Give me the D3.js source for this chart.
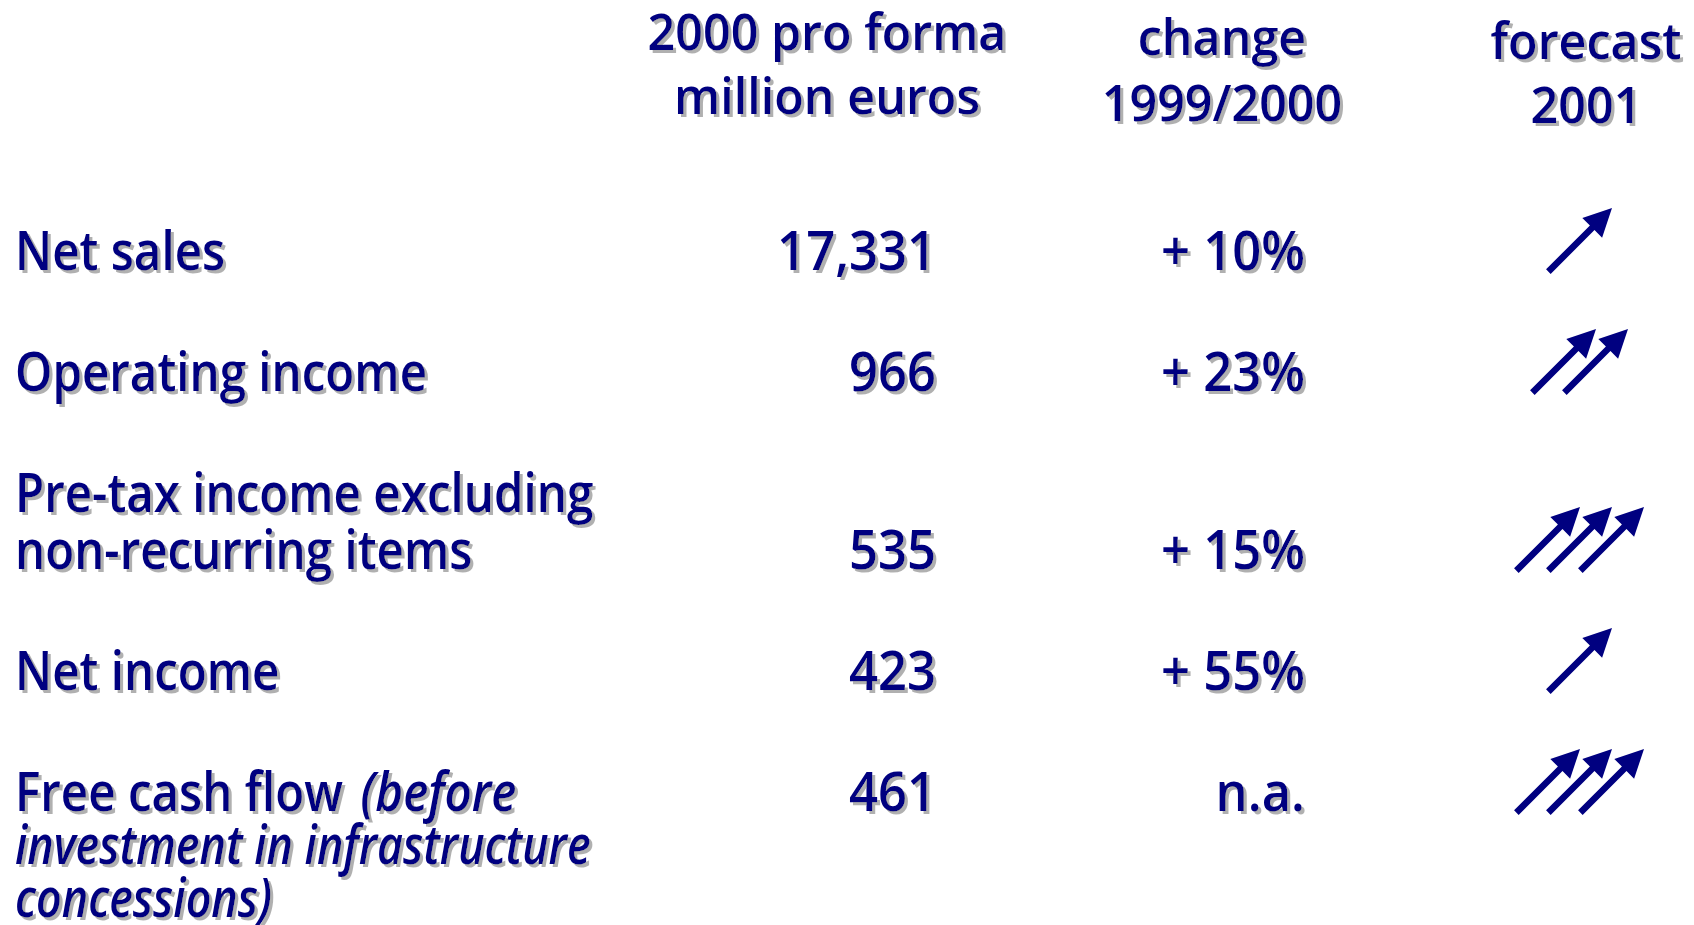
<html>
    <head>
        <meta charset="utf-8">
        <script src="https://d3js.org/d3.v7.min.js"></script>
        <title>Key figures 2000</title>
    </head>
    <style>
        body { margin: 0; background: #fff; }
        text { font-family: "Open Sans", sans-serif; font-weight: 600; fill: #000080; }
    </style>
    <body>
        <svg id="svg1"></svg>
        <script>
            // data
            const rowLabels = [
                ["Net sales"],
                ["Operating income"],
                ["Pre-tax income excluding", "non-recurring items"],
                ["Net income"],
                ["Free cash flow"]
            ];
            // italic note after the last label
            const rowNotes = [null, null, null, null, ["(before", "investment in infrastructure", "concessions)"]];
            // line of the label the figures sit on
            const valueLine = [0, 0, 1, 0, 0];
            const salesValues = [17331, 966, 535, 423, 461];
            const changeValues = [10, 23, 15, 55, null];
            const forecastArrows = [1, 2, 3, 1, 3];
            const headerLines = [
                ["2000 pro forma", "million euros"],
                ["change", "1999/2000"],
                ["forecast", "2001"]
            ];

            const width = 1694;
            const height = 925;
            const navy = "#000080";

            let svg1 = d3.select("svg#svg1")
                         .attr("width", width)
                         .attr("height", height);

            // drop shadow used by all text
            let defs = svg1.append("defs");
            let shadow = defs.append("filter")
                             .attr("id", "shadow")
                             .attr("x", "-5%").attr("y", "-20%")
                             .attr("width", "115%").attr("height", "150%");
            shadow.append("feOffset").attr("in", "SourceAlpha").attr("dx", 3).attr("dy", 3).attr("result", "off");
            shadow.append("feFlood").attr("flood-color", "#b0b0b0");
            shadow.append("feComposite").attr("in2", "off").attr("operator", "in").attr("result", "sh");
            let merge = shadow.append("feMerge");
            merge.append("feMergeNode").attr("in", "sh");
            merge.append("feMergeNode").attr("in", "SourceGraphic");

            const bodySize = 54, bodySx = 0.88, italicSx = 0.83, numSx = 0.94;
            const headSize = 51, headSx = 0.95;
            const lineH = 57;

            // row positions
            const scaleRow = d3.scaleLinear().domain([0, 1]).range([270, 391]);
            let extra = 0;
            const rowTop = rowLabels.map((d, i) => {
                const y = scaleRow(i) + extra;
                extra += valueLine[i] * lineH;
                return y;
            });
            const rowValueY = rowTop.map((y, i) => y + valueLine[i] * lineH);

            // columns
            const scaleCol = d3.scaleOrdinal()
                               .domain(["label", "sales", "change", "forecast"])
                               .range([15, 936, 1305, 1612]);
            const headerX = [827, 1222, 1586];
            const headerY = [[50, 114], [55, 121], [59, 123]];

            let textLayer = svg1.append("g").attr("filter", "url(#shadow)");

            // header
            headerLines.forEach((lines, c) => {
                lines.forEach((t, k) => {
                    textLayer.append("text")
                             .attr("transform", `translate(${headerX[c]}, ${headerY[c][k]}) scale(${headSx}, 1)`)
                             .attr("text-anchor", "middle")
                             .style("font-size", headSize + "px")
                             .text(t);
                });
            });

            // row labels
            rowLabels.forEach((lines, i) => {
                const note = rowNotes[i];
                lines.forEach((t, k) => {
                    let txt = textLayer.append("text")
                                       .attr("transform", `translate(${scaleCol("label")}, ${rowTop[i] + k * lineH}) scale(${bodySx}, 1)`)
                                       .style("font-size", bodySize + "px");
                    txt.append("tspan").text(t);
                    if (note && k === lines.length - 1) {
                        txt.append("tspan")
                           .attr("dx", 20)
                           .style("font-style", "italic")
                           .text(note[0]);
                    }
                });
                if (note) {
                    note.slice(1).forEach((t, k) => {
                        textLayer.append("text")
                                 .attr("transform", `translate(${scaleCol("label")}, ${rowTop[i] + (lines.length + k) * 53}) scale(${italicSx}, 1)`)
                                 .style("font-size", bodySize + "px")
                                 .style("font-style", "italic")
                                 .text(t);
                    });
                }
            });

            // figures
            const fmtSales = d3.format(",");
            textLayer.selectAll("text.sales")
                     .data(salesValues)
                     .join("text")
                     .attr("class", "sales")
                     .attr("transform", (d, i) => `translate(${scaleCol("sales")}, ${rowValueY[i]}) scale(${numSx}, 1)`)
                     .attr("text-anchor", "end")
                     .style("font-size", bodySize + "px")
                     .text(d => fmtSales(d));

            textLayer.selectAll("text.change")
                     .data(changeValues)
                     .join("text")
                     .attr("class", "change")
                     .attr("transform", (d, i) => `translate(${scaleCol("change")}, ${rowValueY[i]}) scale(${numSx}, 1)`)
                     .attr("text-anchor", "end")
                     .style("font-size", bodySize + "px")
                     .text(d => d == null ? "n.a." : `+ ${d}%`);

            // forecast arrows
            const arrowLen = 90, headLen = 28, headHalf = 14, shaft = 6.5, arrowGap = 32;
            const arrowPath = [
                [0, 0], [-headLen, -headHalf], [-headLen, -shaft / 2], [-arrowLen, -shaft / 2],
                [-arrowLen, shaft / 2], [-headLen, shaft / 2], [-headLen, headHalf]
            ];
            let arrowRows = svg1.append("g").attr("class", "arrows")
                                .selectAll("g")
                                .data(forecastArrows)
                                .join("g");
            arrowRows.selectAll("path")
                     .data((n, i) => d3.range(n).map(k => ({ x: scaleCol("forecast") + arrowGap * (k - (n - 1) / 2), y: rowValueY[i] - 62 })))
                     .join("path")
                     .attr("transform", d => `translate(${d.x}, ${d.y}) rotate(-45)`)
                     .attr("d", d3.line()(arrowPath) + "Z")
                     .attr("fill", navy);
        </script>
    </body>
</html>
